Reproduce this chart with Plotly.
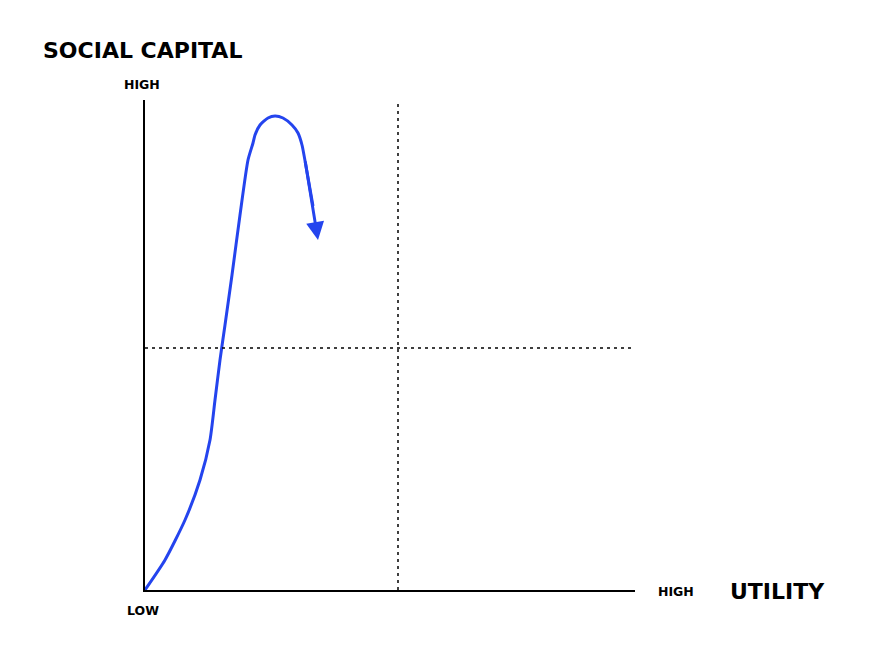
import plotly.graph_objects as go

# curve data (utility, social capital) in arbitrary units, axes 0..490
curve_x = [0, 20, 40, 55, 65, 70, 75, 80, 87, 95, 103, 108, 110, 115, 123, 130, 138, 147, 153, 157, 162, 168]
curve_y = [0, 30, 70, 110, 150, 190, 230, 265, 315, 375, 430, 447, 455, 465, 472, 474, 472, 465, 457, 445, 418, 384]
arrow_tip = (173, 350)
arrow_start = (160, 430)
mid_x = 253
mid_y = 242
axis_max = 490

BLUE = "#2444EE"
FONT = "DejaVu Sans"

fig = go.Figure()
fig.add_trace(go.Scatter(x=curve_x, y=curve_y, mode="lines",
                         line=dict(color=BLUE, width=3, shape="spline", smoothing=0.6),
                         hoverinfo="skip", showlegend=False))
# dashed guides
fig.add_trace(go.Scatter(x=[mid_x, mid_x], y=[0, 487], mode="lines",
                         line=dict(color="black", width=1.5, dash="3px,4px"),
                         hoverinfo="skip", showlegend=False))
fig.add_trace(go.Scatter(x=[0, axis_max], y=[mid_y, mid_y], mode="lines",
                         line=dict(color="black", width=1.5, dash="3px,4px"),
                         hoverinfo="skip", showlegend=False))

fig.add_annotation(x=arrow_tip[0], y=arrow_tip[1], ax=arrow_start[0], ay=arrow_start[1],
                   xref="x", yref="y", axref="x", ayref="y", text="",
                   showarrow=True, arrowhead=2, arrowsize=1.2, arrowwidth=3, arrowcolor=BLUE)

def label(text, x, y, size, weight, xanchor="center"):
    fig.add_annotation(x=x, y=y, xref="paper", yref="paper", text=text, showarrow=False,
                       xanchor=xanchor, yanchor="middle",
                       font=dict(family=FONT, size=size, color="black", weight=weight))

label("SOCIAL CAPITAL", -0.212, 1.102, 22, 700, "left")
label("HIGH", -0.006, 1.031, 12.5, 700)
label("LOW", -0.004, -0.041, 12.5, 700)
label("HIGH", 1.084, -0.004, 12.5, 700)
label("UTILITY", 1.290, -0.004, 22, 700)

axis_common = dict(range=[0, axis_max], showgrid=False, zeroline=False, showticklabels=False,
                   ticks="", showline=True, linecolor="black", linewidth=2)
fig.update_layout(
    width=865, height=662,
    margin=dict(l=137, r=238, t=92, b=80, autoexpand=False),
    plot_bgcolor="white", paper_bgcolor="white",
    xaxis=axis_common, yaxis=axis_common,
)
fig.write_html("out.html")
